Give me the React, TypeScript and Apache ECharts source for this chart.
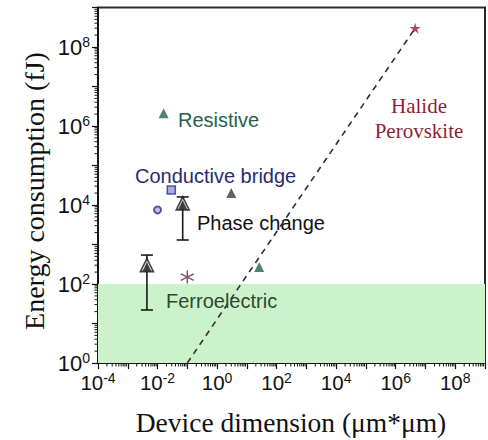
import { useEffect, useRef } from "react";
import * as echarts from "echarts";

// ---- axis ranges (decades) ----
const xMinExp = -4;
const xMaxExp = 9;
const yMinExp = 0;
const yMaxExp = 9;

// ---- data (raw values) ----
const resistiveX = [0.016, 26];
const resistiveY = [2.1e6, 270];
const darkTriangleX = [3];
const darkTriangleY = [2e4];
const bridgeSquareX = [0.029];
const bridgeSquareY = [2.4e4];
const bridgeCircleX = [0.01];
const bridgeCircleY = [7.5e3];
const phaseX = [0.07];
const phaseY = [1.1e4];
const phaseLow = [1300];
const phaseHigh = [1.6e4];
const ferroX = [0.0044];
const ferroY = [300];
const ferroLow = [22];
const ferroHigh = [540];
const asteriskX = [0.1];
const asteriskY = [150];
const perovskiteX = [4.5e6];
const perovskiteY = [3e8];
const trendX = [0.1, 4.5e6];
const trendY = [1, 3e8];
const lowEnergyBand = [1, 100];

const L = (v: number) => Math.log10(v);
const zip = (xs: number[], ys: number[]) => xs.map((x, i) => [L(x), L(ys[i])]);

// minor log ticks (2..9 x 10^d), in decade units
const minorExps = (lo: number, hi: number) => {
  const out: number[] = [];
  for (let d = lo; d < hi; d++) {
    for (let k = 2; k <= 9; k++) out.push(d + Math.log10(k));
  }
  return out;
};

const SANS = "Liberation Sans, Arial, sans-serif";
const SERIF = "Liberation Serif, Times New Roman, serif";

const expFormatter = (v: number) => {
  const e = Math.round(v);
  if (e % 2 !== 0) return "";
  return `{b|10}{s|${e}}`;
};

export default function App() {
  const ref = useRef<HTMLDivElement>(null);
  useEffect(() => {
    if (!ref.current) return;
    const chart = echarts.init(ref.current, undefined, { renderer: "svg" });

    const errRender = (params: any, api: any) => {
      const x = api.value(0);
      const lo = api.value(1);
      const hi = api.value(2);
      const pLo = api.coord([x, lo]);
      const pHi = api.coord([x, hi]);
      const w = 6;
      const st = { stroke: "#1a1a1a", lineWidth: 1.6 };
      return {
        type: "group",
        children: [
          { type: "line", shape: { x1: pLo[0], y1: pLo[1], x2: pHi[0], y2: pHi[1] }, style: st },
          { type: "line", shape: { x1: pLo[0] - w, y1: pLo[1], x2: pLo[0] + w, y2: pLo[1] }, style: st },
          { type: "line", shape: { x1: pHi[0] - w, y1: pHi[1], x2: pHi[0] + w, y2: pHi[1] }, style: st },
        ],
      };
    };

    const xMinor = minorExps(xMinExp, xMaxExp);
    const yMinor = minorExps(yMinExp, yMaxExp);

    const option: any = {
      animation: false,
      backgroundColor: "#ffffff",
      grid: {
        left: 98,
        right: -6.5,
        top: 7.5,
        bottom: 77,
        show: true,
        borderColor: "#2a2a2a",
        borderWidth: 2,
      },
      xAxis: {
        type: "value",
        min: xMinExp,
        max: xMaxExp,
        interval: 1,
        axisLine: { show: true, onZero: false, lineStyle: { color: "#111", width: 1.5 } },
        axisTick: { show: true, inside: false, length: 6, lineStyle: { color: "#111", width: 1.2 } },
        splitLine: { show: false },
        axisLabel: {
          margin: 8,
          showMinLabel: true,
          showMaxLabel: true,
          formatter: expFormatter,
          rich: {
            b: { fontSize: 20.5, fontFamily: SANS, color: "#111" },
            s: { fontSize: 14, fontFamily: SANS, color: "#111", padding: [0, 0, 9, 0] },
          },
        },
      },
      yAxis: {
        type: "value",
        min: yMinExp,
        max: yMaxExp,
        interval: 1,
        axisLine: { show: true, onZero: false, lineStyle: { color: "#111", width: 1.5 } },
        axisTick: { show: true, inside: false, length: 6, lineStyle: { color: "#111", width: 1.2 } },
        splitLine: { show: false },
        axisLabel: {
          margin: 8,
          formatter: expFormatter,
          rich: {
            b: { fontSize: 22, fontFamily: SANS, color: "#111" },
            s: { fontSize: 14, fontFamily: SANS, color: "#111", padding: [0, 0, 10, 0] },
          },
        },
      },
      series: [
        {
          type: "custom",
          name: "band",
          z: 1,
          silent: true,
          data: [[L(lowEnergyBand[0]), L(lowEnergyBand[1])]],
          renderItem: (params: any, api: any) => {
            const cs = params.coordSys;
            const top = api.coord([xMinExp, api.value(1)])[1];
            const bottom = api.coord([xMinExp, api.value(0)])[1];
            return {
              type: "rect",
              shape: { x: cs.x, y: top, width: cs.width, height: bottom - top },
              style: { fill: "#ccf2cc" },
            };
          },
          encode: { x: -1, y: [0, 1] },
        },
        {
          type: "custom",
          name: "minorTicks",
          z: 8,
          silent: true,
          clip: false,
          data: [[xMinExp, yMinExp]],
          renderItem: (params: any, api: any) => {
            const children: any[] = [];
            xMinor.forEach((v) => {
              const p = api.coord([v, yMinExp]);
              children.push({
                type: "line",
                shape: { x1: p[0], y1: p[1], x2: p[0], y2: p[1] + 3.5 },
                style: { stroke: "#111", lineWidth: 1 },
              });
            });
            yMinor.forEach((v) => {
              const p = api.coord([xMinExp, v]);
              children.push({
                type: "line",
                shape: { x1: p[0], y1: p[1], x2: p[0] - 3.5, y2: p[1] },
                style: { stroke: "#111", lineWidth: 1 },
              });
            });
            return { type: "group", children };
          },
        },
        {
          type: "line",
          name: "trend",
          z: 4,
          silent: true,
          data: zip(trendX, trendY),
          symbol: "none",
          lineStyle: { color: "#3a2c2c", width: 1.6, type: [6, 5] },
        },
        {
          type: "custom",
          name: "errPhase",
          z: 5,
          silent: true,
          data: phaseX.map((x, i) => [L(x), L(phaseLow[i]), L(phaseHigh[i])]),
          renderItem: errRender,
        },
        {
          type: "custom",
          name: "errFerro",
          z: 5,
          silent: true,
          data: ferroX.map((x, i) => [L(x), L(ferroLow[i]), L(ferroHigh[i])]),
          renderItem: errRender,
        },
        {
          type: "scatter",
          name: "Resistive",
          z: 6,
          data: zip(resistiveX, resistiveY),
          symbol: "triangle",
          symbolSize: 10,
          itemStyle: { color: "#1c6552" },
        },
        {
          type: "scatter",
          name: "dark",
          z: 6,
          data: zip(darkTriangleX, darkTriangleY),
          symbol: "triangle",
          symbolSize: 10,
          itemStyle: { color: "#3a3a3a" },
        },
        {
          type: "scatter",
          name: "bridgeSquare",
          z: 6,
          data: zip(bridgeSquareX, bridgeSquareY),
          symbol: "rect",
          symbolSize: 8,
          itemStyle: { color: "#9a9ade", borderColor: "#2f2f8c", borderWidth: 1.6 },
        },
        {
          type: "scatter",
          name: "bridgeCircle",
          z: 6,
          data: zip(bridgeCircleX, bridgeCircleY),
          symbol: "circle",
          symbolSize: 7,
          itemStyle: { color: "#b0b0e6", borderColor: "#33338f", borderWidth: 2 },
        },
        {
          type: "scatter",
          name: "phaseOuter",
          z: 6,
          data: zip(phaseX, phaseY).concat(zip(ferroX, ferroY)),
          symbol: "triangle",
          symbolSize: 13,
          itemStyle: { color: "#ffffff", borderColor: "#111", borderWidth: 1.6 },
        },
        {
          type: "scatter",
          name: "phaseInner",
          z: 7,
          data: zip(phaseX, phaseY).concat(zip(ferroX, ferroY)),
          symbol: "triangle",
          symbolSize: 9,
          symbolOffset: [0, 1.5],
          itemStyle: { color: "#111" },
        },
        {
          type: "scatter",
          name: "asterisk",
          z: 6,
          data: zip(asteriskX, asteriskY),
          symbol: "path://M5,0L5,10M0.67,2.5L9.33,7.5M0.67,7.5L9.33,2.5",
          symbolSize: 13,
          itemStyle: { color: "#5b2b3b", borderColor: "#5b2b3b", borderWidth: 1.4 },
        },
        {
          type: "scatter",
          name: "Halide Perovskite",
          z: 6,
          data: zip(perovskiteX, perovskiteY),
          symbol: "path://M50,0L61,35L98,35L68,57L79,91L50,70L21,91L32,57L2,35L39,35Z",
          symbolSize: 11,
          itemStyle: { color: "#9b1b3b" },
        },
      ],
      graphic: [
        { type: "text", x: 178, y: 120, z: 100, style: { text: "Resistive", font: `20px ${SANS}`, fill: "#27604f", verticalAlign: "middle" } },
        { type: "text", x: 135, y: 176, z: 100, style: { text: "Conductive bridge", font: `20px ${SANS}`, fill: "#272d6e", verticalAlign: "middle" } },
        { type: "text", x: 197, y: 223, z: 100, style: { text: "Phase change", font: `20px ${SANS}`, fill: "#111111", verticalAlign: "middle" } },
        { type: "text", x: 166, y: 301, z: 100, style: { text: "Ferroelectric", font: `20px ${SANS}`, fill: "#2b4a2b", verticalAlign: "middle" } },
        { type: "text", x: 419, y: 106, z: 100, style: { text: "Halide", font: `21px ${SERIF}`, fill: "#8e1f33", align: "center", verticalAlign: "middle" } },
        { type: "text", x: 419, y: 131, z: 100, style: { text: "Perovskite", font: `21px ${SERIF}`, fill: "#8e1f33", align: "center", verticalAlign: "middle" } },
        { type: "text", x: 291, y: 422, z: 100, style: { text: "Device dimension (\u03bcm*\u03bcm)", font: `27.5px ${SERIF}`, fill: "#111", align: "center", verticalAlign: "middle" } },
        { type: "text", x: 34, y: 191, z: 100, rotation: Math.PI / 2, style: { text: "Energy consumption (fJ)", font: `28px ${SERIF}`, fill: "#111", align: "center", verticalAlign: "middle" } },
      ],
    };

    chart.setOption(option);
    return () => chart.dispose();
  }, []);

  return (
    <div
      ref={ref}
      style={{ position: "fixed", left: 0, top: 0, width: 488, height: 440, background: "#fff" }}
    />
  );
}
